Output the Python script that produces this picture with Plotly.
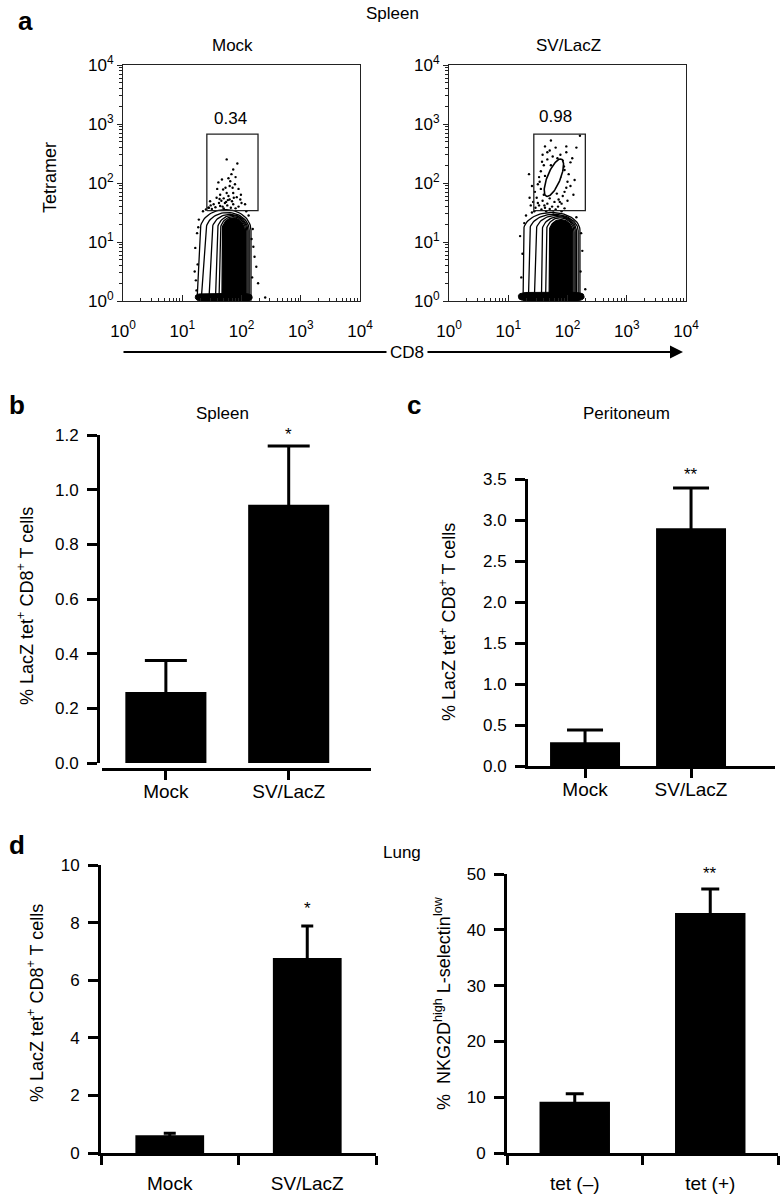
import numpy as np
import plotly.graph_objects as go

W, H = 783, 1196
FONT = "Liberation Sans, Arial, Helvetica, sans-serif"


def fx(px):
    return px / W


def fy(py):
    return 1 - py / H


# ---------------- data: bar panels ----------------
cats_b = ["Mock", "SV/LacZ"]
vals_b = [0.26, 0.945]
err_b = [0.115, 0.215]
star_b = ["", "*"]

cats_c = ["Mock", "SV/LacZ"]
vals_c = [0.29, 2.90]
err_c = [0.15, 0.49]
star_c = ["", "**"]

cats_d1 = ["Mock", "SV/LacZ"]
vals_d1 = [0.62, 6.77]
err_d1 = [0.07, 1.11]
star_d1 = ["", "*"]

cats_d2 = ["tet (\u2013)", "tet (+)"]
vals_d2 = [9.2, 43.0]
err_d2 = [1.4, 4.3]
star_d2 = ["", "**"]

# ---------------- data: flow panels (log10 units) ----------------
flow_ticks = [1, 10, 100, 1000, 10000]
flow_ticktext = ["10<sup>0</sup>", "10<sup>1</sup>", "10<sup>2</sup>", "10<sup>3</sup>", "10<sup>4</sup>"]

gate_mock_x = [26, 190]
gate_mock_y = [34, 676]
gate_sv_x = [27, 200]
gate_sv_y = [34, 676]
gate_freq = ["0.34", "0.98"]

# contour levels: left-top, left-bottom, right, top, rounding height
mock_xl_top = [1.30, 1.40, 1.50, 1.59, 1.64, 1.67]
mock_xl_bot = [1.25, 1.32, 1.45, 1.56, 1.62, 1.67]
mock_xr = [2.16, 2.13, 2.11, 2.09, 2.07, 2.05]
mock_top = [1.55, 1.50, 1.47, 1.45, 1.43, 1.41]
mock_h = [0.35, 0.30, 0.28, 0.26, 0.24, 0.22]
mock_blob = [1.22, 2.18, 0.0, 0.13]

sv_xl_top = [1.26, 1.36, 1.47, 1.57, 1.64, 1.69]
sv_xl_bot = [1.25, 1.34, 1.44, 1.56, 1.63, 1.69]
sv_xr = [2.21, 2.18, 2.15, 2.13, 2.11, 2.09]
sv_top = [1.50, 1.47, 1.45, 1.43, 1.41, 1.38]
sv_h = [0.30, 0.28, 0.26, 0.25, 0.24, 0.22]
sv_blob = [1.17, 2.28, 0.0, 0.15]
sv_pop = [1.77, 2.09, 0.34, 0.11, 68]  # cx, cy, semi-major, semi-minor, angle

mock_dot_lx = [1.75, 1.93, 1.86, 1.83, 1.90, 1.61, 1.80, 1.89, 1.69, 1.75, 1.64, 1.86, 1.58, 1.47,
               1.98, 1.80, 1.53, 1.72, 1.86, 1.64, 1.44, 2.06, 1.78, 1.70, 1.92, 1.66, 1.84, 1.76,
               1.95, 1.56, 1.50, 1.82, 1.70, 1.90, 1.62, 1.73, 1.81, 1.67, 1.95, 1.78, 1.59, 1.87,
               2.00, 1.74, 1.68, 1.48, 1.99, 1.85, 1.77, 1.63,
               1.23, 1.26, 1.22, 1.25, 1.28, 1.24, 1.27, 1.21, 2.18, 2.22, 2.17, 2.25, 2.19, 2.28,
               2.20, 1.35, 1.45, 1.40, 2.08, 2.12, 2.40]
mock_dot_ly = [2.40, 2.33, 2.23, 2.15, 2.10, 2.01, 1.95, 1.98, 1.89, 1.83, 1.80, 1.83, 1.75, 1.69,
               1.72, 1.72, 1.64, 1.66, 1.64, 1.61, 1.58, 1.64, 1.78, 1.74, 1.76, 1.70, 1.69, 1.62,
               1.60, 1.59, 1.56, 1.58, 1.57, 1.57, 1.66, 1.92, 2.03, 2.06, 1.90, 2.08, 1.90, 1.75,
               1.66, 1.68, 1.60, 1.62, 1.80, 1.92, 1.71, 1.73,
               0.35, 0.62, 0.90, 1.15, 1.38, 0.18, 1.25, 0.50, 0.40, 0.75, 1.05, 0.58, 1.22, 0.30,
               0.92, 1.52, 1.58, 1.55, 1.52, 1.45, 0.06]

sv_dot_lx = [1.62, 1.70, 1.80, 1.88, 1.75, 1.92, 1.66, 1.98, 2.05, 1.60, 1.85, 1.95, 1.55, 2.02,
             1.52, 2.00, 1.50, 1.98, 1.55, 1.95, 1.45, 1.60, 1.92, 1.48, 1.70, 1.85, 1.58, 1.78,
             1.42, 1.66, 1.90, 1.52, 1.74, 1.84, 1.62, 1.46, 1.95, 1.70, 1.56, 1.80, 1.38, 1.36,
             1.40, 2.10, 2.12, 2.08, 2.21, 1.72, 1.58, 1.35, 1.65, 1.62, 1.94, 1.82, 1.88, 1.57,
             1.72, 2.00, 1.50, 1.64, 1.90, 1.44, 1.76, 2.15, 1.68, 1.53, 2.05, 1.83, 1.87, 1.61,
             1.98, 1.66,
             1.22, 1.24, 1.20, 1.27, 2.22, 2.25, 2.23, 1.30, 1.40, 2.15, 2.30]
sv_dot_ly = [2.62, 2.55, 2.60, 2.48, 2.45, 2.38, 2.40, 2.52, 2.35, 2.30, 2.32, 2.22, 2.20, 2.15,
             2.10, 2.02, 1.98, 1.92, 1.90, 1.85, 1.85, 1.80, 1.78, 1.75, 1.74, 1.72, 1.70, 1.68,
             1.68, 1.65, 1.65, 1.62, 1.60, 1.60, 1.58, 1.58, 1.57, 1.56, 1.55, 1.55, 1.62, 1.75,
             1.95, 1.80, 2.05, 2.42, 2.80, 2.72, 2.48, 2.15, 1.95, 2.12, 2.28, 1.82, 2.10, 2.36,
             2.30, 1.70, 1.66, 1.52, 1.52, 1.52, 1.50, 2.60, 1.85, 2.02, 1.95, 2.42, 1.68, 1.62,
             2.62, 2.52,
             0.40, 0.80, 1.10, 1.32, 0.50, 0.85, 1.15, 1.45, 1.50, 1.42, 0.20]


# ---------------- helpers ----------------
def tomb(xlt, xlb, xr, top, h, y0=0.015, n=40):
    t = np.linspace(np.pi, 0, n)
    cx = (xlt + xr) / 2
    rx = (xr - xlt) / 2
    ax = cx + rx * np.cos(t)
    ay = (top - h) + h * np.sin(t)
    lx = np.concatenate([[xlb], ax, [xr, xlb]])
    ly = np.concatenate([[y0], ay, [y0, y0]])
    return 10 ** lx, 10 ** ly


def blob(x0, x1, y0, y1, n=120):
    t = np.linspace(0, 2 * np.pi, n)
    cx, rx = (x0 + x1) / 2, (x1 - x0) / 2
    cy, ry = (y0 + y1) / 2, (y1 - y0) / 2
    c, s = np.cos(t), np.sin(t)
    lx = cx + rx * np.sign(c) * np.abs(c) ** 0.35
    ly = cy + ry * np.sign(s) * np.abs(s) ** 0.6
    return 10 ** lx, 10 ** ly


def ellipse(cx, cy, a, b, ang, n=80):
    t = np.linspace(0, 2 * np.pi, n)
    th = np.deg2rad(ang)
    lx = cx + a * np.cos(t) * np.cos(th) - b * np.sin(t) * np.sin(th)
    ly = cy + a * np.cos(t) * np.sin(th) + b * np.sin(t) * np.cos(th)
    return 10 ** lx, 10 ** ly


fig = go.Figure()


def add_flow(xa, ya, xl_top, xl_bot, xr, top, hh, blb, dlx, dly, gx, gy, pop=None):
    n = len(xl_top)
    for i in range(n):
        X, Y = tomb(xl_top[i], xl_bot[i], xr[i], top[i], hh[i])
        fill = "black" if i == n - 1 else "white"
        fig.add_trace(go.Scatter(x=X, y=Y, mode="lines", fill="toself", fillcolor=fill,
                                 line=dict(color="black", width=1.3), xaxis=xa, yaxis=ya,
                                 hoverinfo="skip"))
    X, Y = blob(*blb)
    fig.add_trace(go.Scatter(x=X, y=Y, mode="lines", fill="toself", fillcolor="black",
                             line=dict(color="black", width=1), xaxis=xa, yaxis=ya))
    fig.add_trace(go.Scatter(x=10 ** np.array(dlx), y=10 ** np.array(dly), mode="markers",
                             marker=dict(color="black", size=2.4), xaxis=xa, yaxis=ya))
    if pop is not None:
        X, Y = ellipse(*pop)
        fig.add_trace(go.Scatter(x=X, y=Y, mode="lines", fill="toself", fillcolor="white",
                                 line=dict(color="black", width=1.6), xaxis=xa, yaxis=ya))
    fig.add_trace(go.Scatter(x=[gx[0], gx[1], gx[1], gx[0], gx[0]],
                             y=[gy[0], gy[0], gy[1], gy[1], gy[0]], mode="lines",
                             line=dict(color="#222", width=1.3), xaxis=xa, yaxis=ya))


add_flow("x", "y", mock_xl_top, mock_xl_bot, mock_xr, mock_top, mock_h, mock_blob,
         mock_dot_lx, mock_dot_ly, gate_mock_x, gate_mock_y)
add_flow("x2", "y2", sv_xl_top, sv_xl_bot, sv_xr, sv_top, sv_h, sv_blob,
         sv_dot_lx, sv_dot_ly, gate_sv_x, gate_sv_y, pop=sv_pop)


def add_bars(xa, ya, vals, err, width, cap):
    fig.add_trace(go.Bar(x=[0, 1], y=vals, width=width, marker=dict(color="black", line=dict(width=0)),
                         error_y=dict(type="data", array=err, symmetric=True, color="black",
                                      thickness=3, width=cap),
                         xaxis=xa, yaxis=ya))


add_bars("x3", "y3", vals_b, err_b, 0.66, 21)
add_bars("x4", "y4", vals_c, err_c, 0.66, 18)
add_bars("x5", "y5", vals_d1, err_d1, 0.5, 6)
add_bars("x6", "y6", vals_d2, err_d2, 0.52, 9)

minor_log = [m * 10 ** k for k in range(4) for m in range(2, 10)]
tf = dict(family=FONT, size=17, color="black")


def flow_x(dom, anchor):
    return dict(type="log", range=[0, 4], domain=dom, anchor=anchor, showline=True, mirror=True,
                linecolor="#222", linewidth=1.2, ticks="inside", ticklen=6, tickwidth=1,
                tickcolor="#222", tickvals=flow_ticks, ticktext=flow_ticktext,
                minor=dict(tickmode="array", tickvals=minor_log, ticks="inside", ticklen=3,
                           tickwidth=1, tickcolor="#222"),
                showgrid=False, zeroline=False, tickfont=tf, ticklabelstandoff=14,
                automargin=False)


def flow_y(dom, anchor):
    return dict(type="log", range=[0, 4], domain=dom, anchor=anchor, showline=True, mirror=True,
                linecolor="#222", linewidth=1.2, ticks="outside", ticklen=5, tickwidth=1,
                tickcolor="#222", tickvals=flow_ticks, ticktext=flow_ticktext,
                minor=dict(tickmode="array", tickvals=minor_log, ticks="outside", ticklen=3,
                           tickwidth=1, tickcolor="#222"),
                showgrid=False, zeroline=False, tickfont=tf, automargin=False)


bar_tickfont = dict(family=FONT, size=17, color="black")
cat_font = dict(family=FONT, size=19, color="black")


def bar_y(dom, rng, dtick, fmt, **kw):
    d = dict(domain=dom, range=rng, dtick=dtick, tickformat=fmt, showline=True, linewidth=3,
             linecolor="black", ticks="outside", ticklen=10, tickwidth=3, tickcolor="black",
             showgrid=False, zeroline=False, tickfont=bar_tickfont, ticklabelstandoff=5,
             automargin=False)
    d.update(kw)
    return d


def bar_x(dom, rng, cats, boundary_ticks, **kw):
    d = dict(domain=dom, range=rng, tickvals=[0, 1], ticktext=cats, showline=True, linewidth=3,
             linecolor="black", showgrid=False, zeroline=False, tickfont=cat_font,
             automargin=False)
    if boundary_ticks:
        d.update(ticks="", ticklabelstandoff=11,
                 minor=dict(tickmode="array", tickvals=[-0.5, 0.5, 1.5], ticks="outside",
                            ticklen=9, tickwidth=3, tickcolor="black"))
    else:
        d.update(ticks="outside", ticklen=9, tickwidth=3, tickcolor="black", ticklabelstandoff=-5)
    d.update(kw)
    return d


fig.update_layout(
    template="none",
    width=W, height=H, margin=dict(l=0, r=0, t=0, b=0, autoexpand=False),
    paper_bgcolor="white", plot_bgcolor="white", showlegend=False,
    font=dict(family=FONT, color="black"),
    xaxis=flow_x([fx(123), fx(360)], "y"),
    yaxis=flow_y([fy(301), fy(65)], "x"),
    xaxis2=flow_x([fx(449), fx(686)], "y2"),
    yaxis2=flow_y([fy(301), fy(65)], "x2"),
    xaxis3=bar_x([fx(102), fx(371)], [-0.52, 1.67], cats_b, False, anchor="free", position=fy(769)),
    yaxis3=bar_y([fy(763), fy(435)], [0, 1.2], 0.2, ".1f", anchor="free", position=fx(98)),
    xaxis4=bar_x([fx(528), fx(775)], [-0.538, 1.792], cats_c, False, anchor="y4"),
    yaxis4=bar_y([fy(766), fy(479)], [0, 3.5], 0.5, ".1f", anchor="x4"),
    xaxis5=bar_x([fx(101), fx(376)], [-0.5, 1.5], cats_d1, True, anchor="y5"),
    yaxis5=bar_y([fy(1153), fy(865)], [0, 10], 2, "d", anchor="x5"),
    xaxis6=bar_x([fx(507), fx(778)], [-0.5, 1.5], cats_d2, True, anchor="y6"),
    yaxis6=bar_y([fy(1153), fy(874)], [0, 50], 10, "d", anchor="x6"),
)

ann = []


def text(px, py, s, size=16, bold=False, angle=0, **kw):
    d = dict(x=fx(px), y=fy(py), xref="paper", yref="paper", text=("<b>%s</b>" % s) if bold else s,
             showarrow=False, textangle=angle, xanchor="center", yanchor="middle",
             font=dict(family=FONT, size=size, color="black"))
    d.update(kw)
    ann.append(d)


# panel letters
text(25, 21, "a", 26, bold=True)
text(17, 405, "b", 26, bold=True)
text(414, 405, "c", 26, bold=True)
text(17, 845, "d", 26, bold=True)

# titles
text(392, 14, "Spleen", 17)
text(233, 46, "Mock", 17)
text(568, 46, "SV/LacZ", 17)
text(50, 178, "Tetramer", 18, angle=-90)
text(230, 118, gate_freq[0], 17)
text(555, 117, gate_freq[1], 17)
text(222, 413, "Spleen", 17)
text(626, 413, "Peritoneum", 17)
text(402, 852, "Lung", 17)

# CD8 arrow
ann.append(dict(x=fx(683), y=fy(352), xref="paper", yref="paper", ax=-561, ay=0, text="",
                showarrow=True, arrowhead=2, arrowsize=1.3, arrowwidth=2, arrowcolor="black"))
text(407, 352, "CD8", 17, bgcolor="white", borderpad=3)

# y-axis titles
ytitle = "% LacZ tet<sup>+</sup> CD8<sup>+</sup> T cells"
text(25, 606, ytitle, 18, angle=-90)
text(447, 622, ytitle, 18, angle=-90)
text(35, 1003, ytitle, 18, angle=-90)
text(442, 1003, "%  NKG2D<sup>high</sup> L-selectin<sup>low</sup>", 18, angle=-90)

# significance stars
for xa, ya, vals, err, stars, ys in [("x3", "y3", vals_b, err_b, star_b, 0),
                                     ("x4", "y4", vals_c, err_c, star_c, 2),
                                     ("x5", "y5", vals_d1, err_d1, star_d1, 6),
                                     ("x6", "y6", vals_d2, err_d2, star_d2, 4)]:
    for i, s in enumerate(stars):
        if s:
            ann.append(dict(x=i, y=vals[i] + err[i], xref=xa, yref=ya, text=s, showarrow=False,
                            yanchor="bottom", yshift=ys,
                            font=dict(family=FONT, size=17, color="black")))

fig.update_layout(annotations=ann)
fig.write_html("out.html", config={"displayModeBar": False},
               post_script="document.body.style.margin='0';")
